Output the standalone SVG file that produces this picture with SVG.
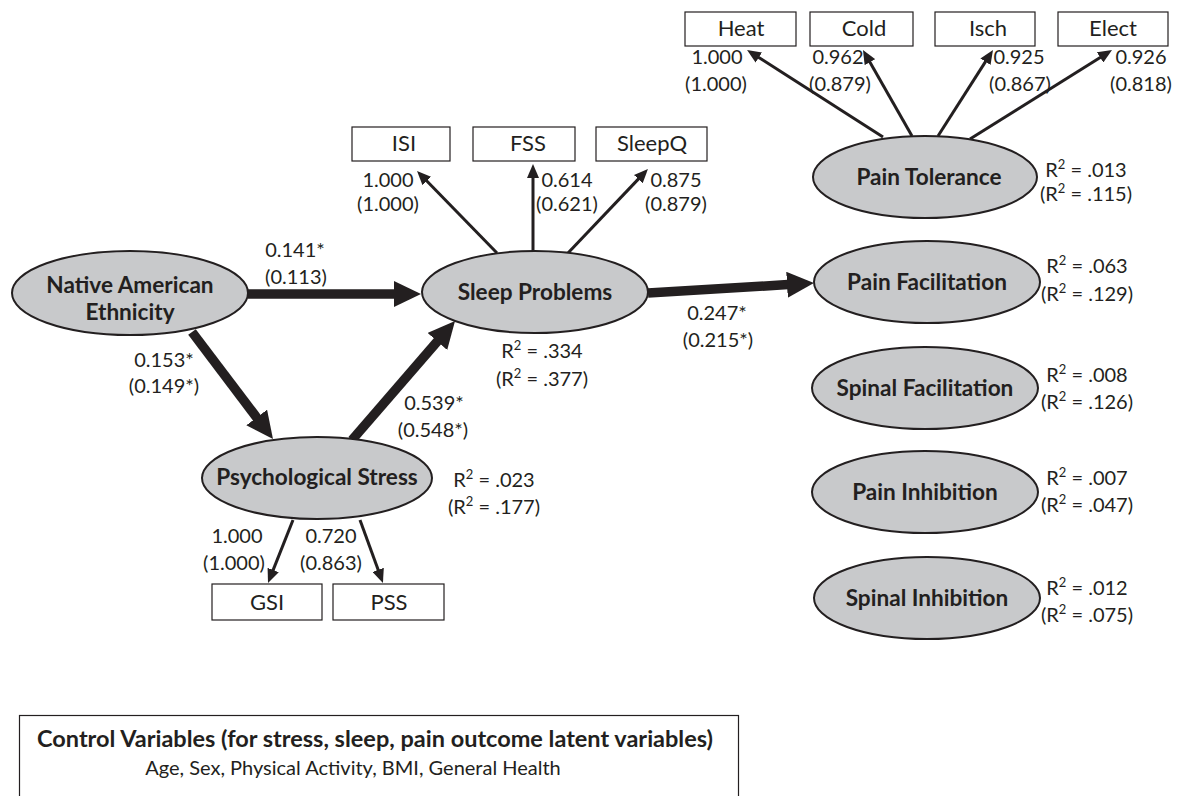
<svg xmlns="http://www.w3.org/2000/svg" width="1177" height="796" viewBox="0 0 1177 796">
<defs>
<style>
text{font-family:Lato,"Open Sans","Liberation Sans",sans-serif;fill:#231f20}
.lat{fill:#c8c9cb;stroke:#231f20;stroke-width:2}
.lat-t{font-size:22.6px;font-weight:bold;text-anchor:middle}
.box{fill:#fff;stroke:#231f20;stroke-width:1.2}
.box-t{font-size:22px;text-anchor:middle}
.lbl{font-size:20px;text-anchor:middle}
.thin{stroke:#231f20;stroke-width:3;fill:none;marker-end:url(#hThin)}
.thick{stroke:#231f20;stroke-width:9.5;fill:none;marker-end:url(#hThick)}
.sup{font-size:13px}
</style>
<marker id="hThin" viewBox="0 0 14 12" markerWidth="14" markerHeight="12" refX="1" refY="6" orient="auto" markerUnits="userSpaceOnUse"><path d="M0,0 L14,6 L0,12 z" fill="#231f20"/></marker>
<marker id="hThick" viewBox="0 0 27 26" markerWidth="27" markerHeight="26" refX="1" refY="13" orient="auto" markerUnits="userSpaceOnUse"><path d="M0,0 L27,13 L0,26 z" fill="#231f20"/></marker>
</defs>
<rect width="1177" height="796" fill="#fff"/>

<g id="connectors">
<line class="thin" x1="883" y1="137" x2="758" y2="57"/>
<line class="thin" x1="912" y1="136" x2="869.4" y2="61.3"/>
<line class="thin" x1="938" y1="136" x2="986" y2="60.9"/>
<line class="thin" x1="970" y1="139" x2="1101" y2="56.9"/>
<line class="thin" x1="497" y1="253" x2="426.1" y2="180.3"/>
<line class="thin" x1="533" y1="252" x2="533" y2="177"/>
<line class="thin" x1="568" y1="253" x2="639" y2="178.4"/>
<line class="thin" x1="293" y1="520" x2="272.8" y2="570.9"/>
<line class="thin" x1="360" y1="520" x2="378.5" y2="570.8"/>
<line class="thick" x1="248" y1="294" x2="395" y2="294"/>
<line class="thick" x1="192" y1="332" x2="257.3" y2="418.3"/>
<line class="thick" x1="352" y1="440" x2="438" y2="340.7"/>
<line class="thick" x1="648" y1="293" x2="788" y2="284.6"/>
</g>

<g id="heat"><rect class="box" x="685" y="12" width="111" height="34"/><text class="box-t" x="741" y="36">Heat</text></g>
<g id="cold"><rect class="box" x="810" y="12" width="103" height="34"/><text class="box-t" x="864" y="36">Cold</text></g>
<g id="isch"><rect class="box" x="935" y="12" width="100" height="34"/><text class="box-t" x="988" y="36">Isch</text></g>
<g id="elect"><rect class="box" x="1058" y="12" width="110" height="34"/><text class="box-t" x="1113" y="36">Elect</text></g>

<g id="isi"><rect class="box" x="352" y="127" width="98" height="34"/><text class="box-t" x="404" y="151">ISI</text></g>
<g id="fss"><rect class="box" x="473" y="127" width="102" height="34"/><text class="box-t" x="528" y="151">FSS</text></g>
<g id="sleepq"><rect class="box" x="596" y="127" width="111" height="34"/><text class="box-t" x="652" y="151">SleepQ</text></g>

<g id="gsi"><rect class="box" x="212" y="584" width="110" height="36"/><text class="box-t" x="267" y="610">GSI</text></g>
<g id="pss"><rect class="box" x="333" y="584" width="111" height="36"/><text class="box-t" x="389" y="610">PSS</text></g>

<g id="native-american">
<ellipse class="lat" cx="130" cy="293" rx="118" ry="42"/>
<text class="lat-t" x="130" y="293">Native American</text>
<text class="lat-t" x="130" y="320">Ethnicity</text>
</g>
<g id="sleep-problems">
<ellipse class="lat" cx="535" cy="292" rx="113" ry="41"/>
<text class="lat-t" x="535" y="300">Sleep Problems</text>
</g>
<g id="psychological-stress">
<ellipse class="lat" cx="317" cy="478" rx="115" ry="41"/>
<text class="lat-t" x="317" y="485">Psychological Stress</text>
</g>
<g id="pain-tolerance">
<ellipse class="lat" cx="925" cy="177" rx="112" ry="41"/>
<text class="lat-t" x="929" y="185">Pain Tolerance</text>
</g>
<g id="pain-facilitation">
<ellipse class="lat" cx="927" cy="282" rx="113" ry="41"/>
<text class="lat-t" x="927" y="290">Pain Facilitation</text>
</g>
<g id="spinal-facilitation">
<ellipse class="lat" cx="925" cy="388" rx="113" ry="41"/>
<text class="lat-t" x="925" y="396">Spinal Facilitation</text>
</g>
<g id="pain-inhibition">
<ellipse class="lat" cx="925" cy="492" rx="113" ry="41"/>
<text class="lat-t" x="925" y="500">Pain Inhibition</text>
</g>
<g id="spinal-inhibition">
<ellipse class="lat" cx="927" cy="598" rx="113" ry="41"/>
<text class="lat-t" x="927" y="606">Spinal Inhibition</text>
</g>

<g id="labels">
<text class="lbl" x="717" y="64">1.000</text>
<text class="lbl" x="716" y="91">(1.000)</text>
<text class="lbl" x="838" y="64">0.962</text>
<text class="lbl" x="840" y="91">(0.879)</text>
<text class="lbl" x="1019" y="64">0.925</text>
<text class="lbl" x="1020" y="91">(0.867)</text>
<text class="lbl" x="1141" y="64">0.926</text>
<text class="lbl" x="1141" y="91">(0.818)</text>

<text class="lbl" x="388" y="187">1.000</text>
<text class="lbl" x="388" y="211">(1.000)</text>
<text class="lbl" x="567" y="187">0.614</text>
<text class="lbl" x="567" y="211">(0.621)</text>
<text class="lbl" x="676" y="187">0.875</text>
<text class="lbl" x="676" y="211">(0.879)</text>

<text class="lbl" x="295" y="257">0.141*</text>
<text class="lbl" x="296" y="284">(0.113)</text>
<text class="lbl" x="164" y="367">0.153*</text>
<text class="lbl" x="164" y="393">(0.149*)</text>
<text class="lbl" x="434" y="410">0.539*</text>
<text class="lbl" x="433" y="437">(0.548*)</text>
<text class="lbl" x="717" y="320">0.247*</text>
<text class="lbl" x="718" y="347">(0.215*)</text>

<text class="lbl" x="237" y="543">1.000</text>
<text class="lbl" x="234" y="570">(1.000)</text>
<text class="lbl" x="331" y="543">0.720</text>
<text class="lbl" x="331" y="570">(0.863)</text>

<text class="lbl" x="542" y="358">R<tspan class="sup" dy="-8">2</tspan><tspan dy="8"> = .334</tspan></text>
<text class="lbl" x="542" y="386">(R<tspan class="sup" dy="-8">2</tspan><tspan dy="8"> = .377)</tspan></text>
<text class="lbl" x="494" y="487">R<tspan class="sup" dy="-8">2</tspan><tspan dy="8"> = .023</tspan></text>
<text class="lbl" x="494" y="514">(R<tspan class="sup" dy="-8">2</tspan><tspan dy="8"> = .177)</tspan></text>

<text class="lbl" x="1086" y="177">R<tspan class="sup" dy="-8">2</tspan><tspan dy="8"> = .013</tspan></text>
<text class="lbl" x="1086" y="201">(R<tspan class="sup" dy="-8">2</tspan><tspan dy="8"> = .115)</tspan></text>
<text class="lbl" x="1087" y="273">R<tspan class="sup" dy="-8">2</tspan><tspan dy="8"> = .063</tspan></text>
<text class="lbl" x="1087" y="301">(R<tspan class="sup" dy="-8">2</tspan><tspan dy="8"> = .129)</tspan></text>
<text class="lbl" x="1087" y="382">R<tspan class="sup" dy="-8">2</tspan><tspan dy="8"> = .008</tspan></text>
<text class="lbl" x="1087" y="409">(R<tspan class="sup" dy="-8">2</tspan><tspan dy="8"> = .126)</tspan></text>
<text class="lbl" x="1087" y="485">R<tspan class="sup" dy="-8">2</tspan><tspan dy="8"> = .007</tspan></text>
<text class="lbl" x="1087" y="512">(R<tspan class="sup" dy="-8">2</tspan><tspan dy="8"> = .047)</tspan></text>
<text class="lbl" x="1087" y="595">R<tspan class="sup" dy="-8">2</tspan><tspan dy="8"> = .012</tspan></text>
<text class="lbl" x="1087" y="622">(R<tspan class="sup" dy="-8">2</tspan><tspan dy="8"> = .075)</tspan></text>
</g>

<g id="control-variables">
<rect x="19.5" y="715.5" width="719" height="100" fill="#fff" stroke="#231f20" stroke-width="1.2"/>
<text x="375" y="747" textLength="676" lengthAdjust="spacingAndGlyphs" style="font-size:22px;font-weight:bold;text-anchor:middle">Control Variables (for stress, sleep, pain outcome latent variables)</text>
<text x="353" y="775" style="font-size:20px;text-anchor:middle">Age, Sex, Physical Activity, BMI, General Health</text>
</g>
</svg>
